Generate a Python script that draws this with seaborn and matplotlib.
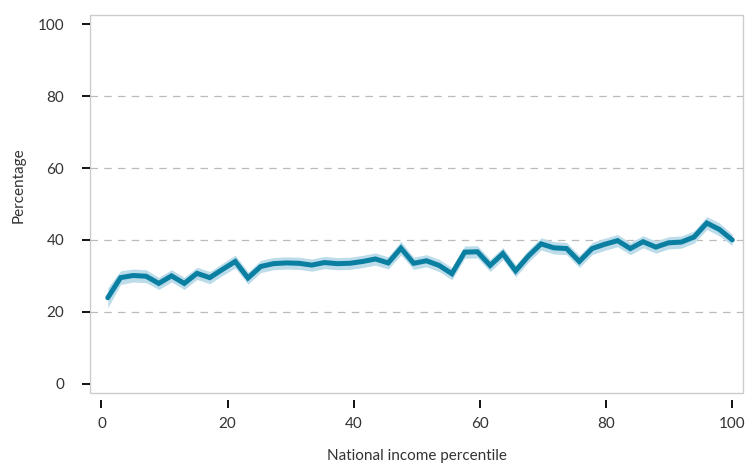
import matplotlib
import matplotlib.pyplot as plt
import numpy as np
import pandas as pd
import seaborn as sns

matplotlib.use("Agg")

# share of the group (%) by national income percentile, 50 points from 1 to 100
percentile = np.linspace(1, 100, 50)
share = [
    23.9, 29.5, 30.1, 29.9, 27.9, 30.0, 27.9, 30.7, 29.5, 31.8,
    34.0, 29.4, 32.6, 33.4, 33.6, 33.5, 33.0, 33.7, 33.4, 33.5,
    34.0, 34.7, 33.6, 37.7, 33.5, 34.2, 32.9, 30.6, 36.6, 36.7,
    32.9, 36.2, 31.4, 35.5, 38.9, 37.8, 37.6, 34.0, 37.6, 38.8,
    39.8, 37.6, 39.5, 38.0, 39.2, 39.4, 40.8, 44.7, 42.9, 40.0,
]
# half-width of the confidence band
band_half = [
    2.8, 1.9, 1.8, 1.8, 1.7, 1.7, 1.7, 1.7, 1.7, 1.7,
    1.8, 1.7, 1.7, 1.7, 1.7, 1.7, 1.7, 1.7, 1.7, 1.7,
    1.7, 1.7, 1.7, 1.9, 1.7, 1.7, 1.7, 1.7, 1.7, 1.7,
    1.7, 1.7, 1.7, 1.7, 1.7, 1.7, 1.7, 1.7, 1.7, 1.7,
    1.7, 1.7, 1.7, 1.7, 1.7, 1.7, 1.7, 1.8, 1.8, 1.6,
]
x_ticks = [0, 20, 40, 60, 80, 100]
y_ticks = [0, 20, 40, 60, 80, 100]

LINE = "#0b7fa2"
BAND = "#bcdcea"
FRAME = "#cccccc"
TEXT = "#333333"

sns.set_theme(style="white")
plt.rcParams["font.family"] = ["Lato", "DejaVu Sans"]

df = pd.DataFrame({"percentile": percentile, "share": share, "half": band_half})

fig = plt.figure(figsize=(7.55, 4.65), dpi=100)
ax = fig.add_axes([90 / 755, 1 - 393 / 465, (743 - 90) / 755, (393 - 15) / 465])

ax.fill_between(df["percentile"], df["share"] - df["half"], df["share"] + df["half"],
                color=BAND, linewidth=0, zorder=2)
sns.lineplot(data=df, x="percentile", y="share", color=LINE, linewidth=3.6,
             solid_joinstyle="miter", ax=ax, zorder=3)

ax.set_xlim(-1.82, 101.7)
ax.set_ylim(-2.6, 102.6)
ax.set_xticks(x_ticks)
ax.set_yticks(y_ticks)

# frame drawn by the axes patch; spines hidden so the x ticks can sit detached
for side in ["top", "right", "left", "bottom"]:
    ax.spines[side].set_visible(False)
ax.spines["bottom"].set_position(("outward", 5))
ax.patch.set_edgecolor(FRAME)
ax.patch.set_linewidth(1.0)

ax.yaxis.grid(True, color="#bbbbbb", linestyle=(0, (6, 5)), linewidth=0.9)
grid = ax.get_ygridlines()
grid[0].set_visible(False)
grid[-1].set_visible(False)
ax.set_axisbelow(True)

ax.tick_params(axis="both", which="major", direction="out", length=5.5, width=1.4,
               color="#111111", labelsize=11, labelcolor=TEXT)
ax.tick_params(axis="y", pad=13)
ax.tick_params(axis="x", pad=7)
ax.xaxis.set_ticks_position("bottom")
ax.yaxis.set_ticks_position("left")

ax.set_xlabel("National income percentile", fontsize=11, color=TEXT)
ax.set_ylabel("Percentage", fontsize=11, color=TEXT)
ax.xaxis.set_label_coords(0.5, -0.148)
ax.yaxis.set_label_coords(-0.098, 0.55)

fig.savefig("out.png", dpi=100)
plt.close(fig)
